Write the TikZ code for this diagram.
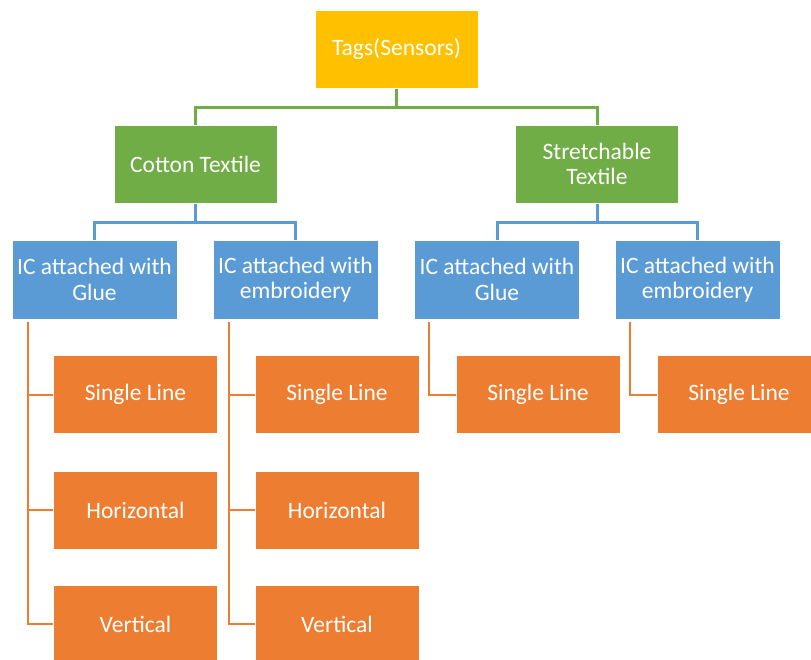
\documentclass[tikz,border=0pt]{standalone}
\usepackage{fontspec}
\setmainfont{Carlito}
\usetikzlibrary{positioning}

\definecolor{tagyellow}{HTML}{FFC000}
\definecolor{textgreen}{HTML}{70AD47}
\definecolor{icblue}{HTML}{5B9BD5}
\definecolor{lineorange}{HTML}{ED7D31}

\tikzset{
    box/.style={draw=white, line width=1pt, text=white, align=center,
        font=\fontsize{23.5}{25.5}\selectfont, inner sep=0pt},
    tagbox/.style={box, fill=tagyellow, minimum width=163pt, minimum height=78pt},
    textilebox/.style={box, fill=textgreen, minimum width=163pt, minimum height=78pt},
    icbox/.style={box, fill=icblue, minimum width=165pt, minimum height=79pt},
    linebox/.style={box, fill=lineorange, minimum width=164pt, minimum height=78pt},
}

\begin{document}
\begin{tikzpicture}[x=1pt, y=-1pt]
    \useasboundingbox (0,0) rectangle (811,659);

    % top level
    \node[tagbox] (tags) at (396.5, 49) {Tags(Sensors)};

    % textiles
    \node[textilebox] (cotton) at (195.5, 164) {Cotton Textile};
    \node[textilebox] (stretch) at (597, 164) {Stretchable\\Textile};

    % ways of attaching the IC
    \node[icbox] (glueA) at (94.5, 279.5) {IC attached with\\Glue};
    \node[icbox] (embA) at (295.5, 279.5) {IC attached with\\embroidery};
    \node[icbox] (glueB) at (497, 279.5) {IC attached with\\Glue};
    \node[icbox] (embB) at (697.5, 279.5) {IC attached with\\embroidery};

    % line shapes
    \node[linebox] (singleA) at (135.5, 394.5) {Single Line};
    \node[linebox] (horA) at (135.5, 510) {Horizontal};
    \node[linebox] (vertA) at (135.5, 624) {Vertical};
    \node[linebox] (singleB) at (337, 394.5) {Single Line};
    \node[linebox] (horB) at (337, 510) {Horizontal};
    \node[linebox] (vertB) at (337, 624) {Vertical};
    \node[linebox] (singleC) at (538, 394.5) {Single Line};
    \node[linebox] (singleD) at (739, 394.5) {Single Line};

    % connectors
    \draw[textgreen, line width=3pt] (tags.south) -- ++(0,19) -| (cotton.north);
    \draw[textgreen, line width=3pt] (tags.south) -- ++(0,19) -| (stretch.north);

    \draw[icblue, line width=3pt] (cotton.south) -- ++(0,19) -| (glueA.north);
    \draw[icblue, line width=3pt] (cotton.south) -- ++(0,19) -| (embA.north);
    \draw[icblue, line width=3pt] (stretch.south) -- ++(0,19) -| (glueB.north);
    \draw[icblue, line width=3pt] (stretch.south) -- ++(0,19) -| (embB.north);

    \draw[lineorange, line width=2pt] ([xshift=16pt, yshift=-2pt]glueA.south west) |- (singleA.west);
    \draw[lineorange, line width=2pt] ([xshift=16pt, yshift=-2pt]glueA.south west) |- (horA.west);
    \draw[lineorange, line width=2pt] ([xshift=16pt, yshift=-2pt]glueA.south west) |- (vertA.west);
    \draw[lineorange, line width=2pt] ([xshift=16pt, yshift=-2pt]embA.south west) |- (singleB.west);
    \draw[lineorange, line width=2pt] ([xshift=16pt, yshift=-2pt]embA.south west) |- (horB.west);
    \draw[lineorange, line width=2pt] ([xshift=16pt, yshift=-2pt]embA.south west) |- (vertB.west);
    \draw[lineorange, line width=2pt] ([xshift=15pt, yshift=-2pt]glueB.south west) |- (singleC.west);
    \draw[lineorange, line width=2pt] ([xshift=15pt, yshift=-2pt]embB.south west) |- (singleD.west);
\end{tikzpicture}
\end{document}
